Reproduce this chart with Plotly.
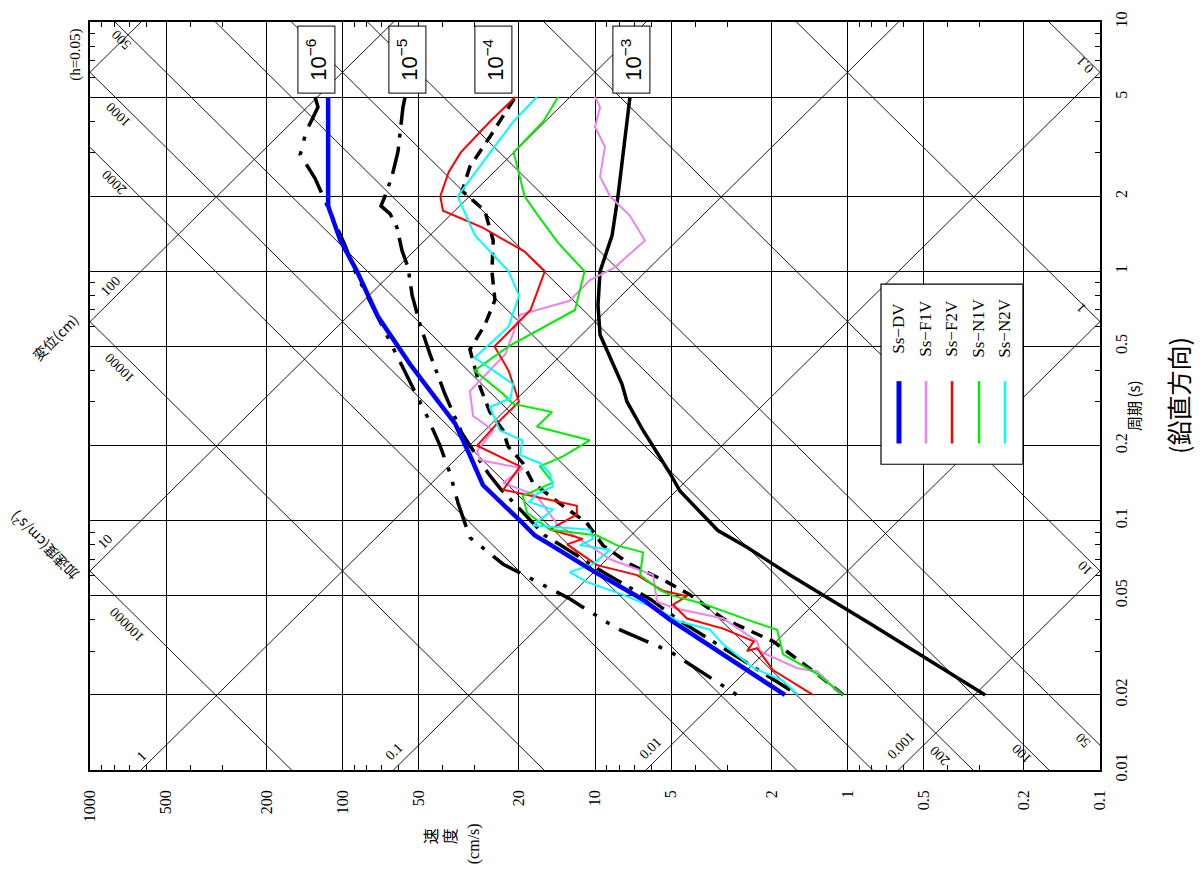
import numpy as np
import plotly.graph_objects as go

# ---------------- data (period T [s], pseudo velocity V [cm/s]) ----------------
vel_ticks = [1000, 500, 200, 100, 50, 20, 10, 5, 2, 1, 0.5, 0.2, 0.1]
per_ticks = [0.01, 0.02, 0.05, 0.1, 0.2, 0.5, 1, 2, 5, 10]
disp_lines = [0.001, 0.01, 0.1, 1, 10, 100, 1000]          # cm
acc_lines = [0.1, 1, 10, 50, 100, 200, 500, 1000, 2000, 10000, 100000]  # cm/s2

T_e3 = [0.02, 0.0387, 0.0605, 0.0782, 0.0913, 0.1315, 0.155, 0.23, 0.30, 0.353, 0.557, 0.733, 1.0, 1.39, 2.0, 3.46, 5.0]
V_e3 = [0.285, 0.815, 1.69, 2.50, 3.26, 4.61, 5.05, 6.45, 7.47, 7.82, 9.55, 9.73, 9.55, 8.56, 8.11, 7.61, 7.27]

T_e4 = [0.02, 0.0243, 0.0328, 0.0405, 0.0504, 0.0568, 0.0669, 0.0796, 0.0982, 0.1147, 0.1416, 0.17, 0.1985, 0.23, 0.273, 0.343, 0.486, 0.61, 0.767, 1.0, 1.33, 1.75, 2.10, 2.63, 3.46, 5.0]
V_e4 = [1.04, 1.32, 1.97, 3.11, 4.2, 5.19, 7.27, 9.3, 10.8, 13.4, 17.6, 19.3, 22.1, 23.1, 26.1, 28.5, 31.3, 27.3, 24.9, 25.6, 25.3, 27.3, 33.6, 31.3, 26.1, 20.7]

T_e5 = [5.0, 4.56, 3.02, 2.40, 2.0, 1.83, 1.70, 1.495, 1.21, 1.037, 0.803, 0.611, 0.464, 0.322, 0.2235, 0.186, 0.155, 0.135, 0.1028, 0.0872, 0.0803, 0.0622, 0.0482, 0.0401, 0.02]
V_e5 = [56.5, 57.6, 60.3, 63.7, 67.9, 70.4, 64.8, 60.8, 58.1, 55.0, 53.0, 49.3, 45.0, 39.3, 33.6, 29.9, 26.5, 23.8, 18.4, 15.8, 13.8, 9.3, 6.0, 4.69, 1.57]

T_e6 = [5.0, 4.56, 3.63, 2.94, 2.36, 1.91, 1.59, 1.27, 1.0, 0.789, 0.61, 0.456, 0.347, 0.263, 0.2, 0.155, 0.118, 0.0856, 0.0669, 0.0486, 0.0369, 0.0299, 0.02]
V_e6 = [128.5, 125, 139.5, 147, 128.5, 117, 107, 97.7, 89.2, 79.3, 69.8, 60.8, 53, 46.3, 41.1, 37.5, 34.9, 31.3, 23.1, 12.6, 8.18, 5.05, 2.74]

T_dv = [0.02, 0.0401, 0.0482, 0.0622, 0.0803, 0.0872, 0.1, 0.139, 0.183, 0.245, 0.294, 0.424, 0.657, 1.0, 1.33, 1.83, 5.0]
V_dv = [1.77, 5.05, 6.45, 10, 15.1, 17.3, 19.8, 27.8, 31.3, 35.8, 41.1, 54, 72.3, 87.6, 102, 114, 114]

T_f1 = [0.0202, 0.0249, 0.0256, 0.0299, 0.0328, 0.0405, 0.0443, 0.0473, 0.0605, 0.07, 0.0964, 0.106, 0.1257, 0.142, 0.162, 0.175, 0.191, 0.23, 0.263, 0.331, 0.464, 0.669, 0.762, 0.921, 1.04, 1.33, 1.67, 2.0, 2.4, 3.16, 3.79, 4.56, 5.0]
V_f1 = [1.07, 1.32, 1.58, 2.22, 2.28, 3.11, 4.73, 5.68, 5.89, 8.72, 14.1, 15.1, 17.0, 23.1, 19.3, 28.5, 29.3, 25.3, 30.4, 31.3, 22.7, 19.8, 12.6, 10.5, 8.33, 6.34, 7.27, 8.72, 9.55, 9.13, 10, 9.55, 10]

T_f2 = [0.02, 0.0251, 0.0308, 0.03, 0.0328, 0.0369, 0.0405, 0.046, 0.0498, 0.0523, 0.0605, 0.0663, 0.0803, 0.0845, 0.0921, 0.106, 0.1147, 0.133, 0.165, 0.191, 0.2, 0.25, 0.3, 0.4, 0.5, 0.7, 1.0, 1.2, 1.5, 1.75, 2.0, 2.5, 3.0, 4.0, 5.0]
V_f2 = [1.37, 1.97, 2.28, 2.5, 2.35, 3.11, 4.32, 4.91, 4.32, 5.38, 6.82, 9.82, 12.9, 11.2, 15.1, 11.8, 11.8, 23.1, 19.8, 26.8, 29.3, 24, 20, 22, 25, 18, 15.8, 19, 28, 40, 41, 38, 34, 26, 20.7]

T_n1 = [0.02, 0.0243, 0.0291, 0.0365, 0.0401, 0.0464, 0.0504, 0.0527, 0.0605, 0.0746, 0.0796, 0.0872, 0.0921, 0.1076, 0.1257, 0.142, 0.165, 0.181, 0.21, 0.238, 0.273, 0.294, 0.322, 0.4, 0.5, 0.7, 1.0, 1.3, 1.7, 2.0, 3.0, 4.0, 5.0]
V_n1 = [1.04, 1.32, 1.8, 1.9, 2.50, 3.73, 5.05, 5.53, 6.63, 6.45, 8.18, 9.82, 15.1, 18.6, 19.3, 14.7, 16.5, 13.4, 10.5, 17, 14.8, 21.1, 23.1, 30, 22, 12, 11, 14, 17, 19, 21, 16, 14]

T_n2 = [0.02, 0.0228, 0.0256, 0.0319, 0.0365, 0.0397, 0.0443, 0.0504, 0.0568, 0.0622, 0.0669, 0.0728, 0.0765, 0.0796, 0.0845, 0.0921, 0.0957, 0.1107, 0.1187, 0.128, 0.137, 0.155, 0.17, 0.183, 0.21, 0.23, 0.285, 0.31, 0.353, 0.45, 0.6, 0.8, 1.0, 1.4, 2.0, 3.0, 4.0, 5.0]
V_n2 = [1.57, 1.8, 2.35, 3.11, 3.5, 4.73, 5.68, 7.75, 10.8, 12.6, 10.2, 9.3, 8.72, 11.5, 10.2, 10.5, 17.6, 14.7, 18.2, 17, 14.7, 15.1, 16.5, 19.8, 19.4, 23.8, 26.1, 21.6, 21.1, 30, 22, 20, 22, 30, 35, 26, 21, 17]

series = [
    ("Ss\u2212DV", T_dv, V_dv, "#0000ff", 4.5),
    ("Ss\u2212F1V", T_f1, V_f1, "#ee82ee", 2),
    ("Ss\u2212F2V", T_f2, V_f2, "#ff0000", 2),
    ("Ss\u2212N1V", T_n1, V_n1, "#00ee00", 2),
    ("Ss\u2212N2V", T_n2, V_n2, "#00ffff", 2),
]
hazard = [
    ("10<sup>\u22126</sup>", T_e6, V_e6, "32px,11px,4px,11px,4px,11px"),
    ("10<sup>\u22125</sup>", T_e5, V_e5, "28px,9px,4px,9px"),
    ("10<sup>\u22124</sup>", T_e4, V_e4, "12px,8px"),
    ("10<sup>\u22123</sup>", T_e3, V_e3, "solid"),
]

# ---------------- figure ----------------
W, H = 1203, 877
L, R, TOP, B = 90, 103, 14, 107
fig = go.Figure()

Tg = np.array([0.005, 20.0])
for d in disp_lines:
    fig.add_trace(go.Scatter(x=2 * np.pi * d / Tg, y=Tg, mode="lines",
                             line=dict(color="black", width=0.9), hoverinfo="skip", showlegend=False))
for a in acc_lines:
    fig.add_trace(go.Scatter(x=a * Tg / (2 * np.pi), y=Tg, mode="lines",
                             line=dict(color="black", width=0.9), hoverinfo="skip", showlegend=False))

for name, T, V, dash in hazard:
    fig.add_trace(go.Scatter(x=V, y=T, mode="lines", name=name,
                             line=dict(color="black", width=3.5, dash=dash), showlegend=False))
for name, T, V, col, w in series[1:] + series[:1]:
    fig.add_trace(go.Scatter(x=V, y=T, mode="lines", name=name,
                             line=dict(color=col, width=w), showlegend=False))

def minor_vals(lo, hi):
    out = []
    for e in range(lo, hi):
        for m in (3, 4, 6, 7, 8, 9):
            out.append(m * 10.0 ** e)
    return out

SERIF = "Liberation Serif"
CJK = "Noto Sans CJK JP"

fig.update_xaxes(type="log", range=[3, -1], tickvals=vel_ticks, ticktext=[str(v) for v in vel_ticks],
                 tickangle=-90, tickfont=dict(family=SERIF, size=16, color="black"),
                 ticklabelstandoff=12,
                 showgrid=True, gridcolor="black", gridwidth=1, zeroline=False,
                 showline=True, linecolor="black", linewidth=1.5, mirror="ticks",
                 ticks="inside", ticklen=0,
                 minor=dict(tickvals=minor_vals(-1, 3), ticks="inside", ticklen=5, tickcolor="black", showgrid=False))
fig.update_yaxes(type="log", range=[-2, 1], side="right", tickvals=per_ticks,
                 ticktext=[str(v) for v in per_ticks],
                 tickangle=-90, tickfont=dict(family=SERIF, size=16, color="black"),
                 ticklabelstandoff=6,
                 showgrid=True, gridcolor="black", gridwidth=1, zeroline=False,
                 showline=True, linecolor="black", linewidth=1.5, mirror="ticks",
                 ticks="inside", ticklen=0,
                 minor=dict(tickvals=minor_vals(-2, 1), ticks="inside", ticklen=5, tickcolor="black", showgrid=False))

def xp(px):
    return (px - L) / (W - L - R)

def yp(py):
    return (H - B - py) / (H - TOP - B)

ann = []
def txt(s, px, py, ang, size=14, fam=SERIF, **kw):
    ann.append(dict(text=s, x=xp(px), y=yp(py), xref="paper", yref="paper", showarrow=False,
                    textangle=ang, font=dict(family=fam, size=size, color="black"),
                    xanchor="center", yanchor="middle", **kw))

# diagonal line labels
txt("(h=0.05)", 76, 47, -90, 15)
txt("500", 122, 32, -135, 14)
txt("1000", 118, 108, -135, 14)
txt("2000", 114, 176, -135, 14)
txt("100", 110, 281, -45, 14)
txt("変位(cm)", 55, 332, -45, 14, fam=CJK)
txt("10000", 120, 364, -135, 14)
txt("加速度(cm/s<sup>2</sup>)", 44, 544, -135, 14, fam=CJK)
txt("10", 105, 539, -45, 14)
txt("100000", 127, 623, -135, 14)
txt("1", 141, 756, -45, 14)
txt("0.1", 394, 751, -45, 14)
txt("0.01", 650, 748, -45, 14)
txt("0.001", 901, 745, -45, 14)
txt("200", 940, 756, -135, 14)
txt("100", 1022, 754, -135, 14)
txt("50", 1083, 740, -135, 14)
txt("10", 1085, 566, -135, 14)
txt("1", 1082, 303, -135, 14)
txt("0.1", 1085, 57, -135, 14)

# hazard level boxes
for (name, *_), cx in zip(hazard, [316, 407, 493, 631]):
    txt(name, cx, 52, -90, 22, fam="Liberation Sans", bgcolor="white", bordercolor="black",
        borderwidth=1, width=64, height=34, borderpad=1)

# axis titles
txt("速", 430, 837, -90, 16, fam=CJK)
txt("度", 449, 837, -90, 16, fam=CJK)
txt("(cm/s)", 474, 845, -90, 16, fam=SERIF)
txt("周期 (s)", 1134, 402, -90, 15, fam=CJK)
txt("(鉛直方向)", 1178, 392, -90, 25, fam=CJK)

# legend (rotated)
shapes = [dict(type="rect", xref="paper", yref="paper", x0=xp(881), x1=xp(1023), y0=yp(461), y1=yp(279),
               line=dict(color="black", width=1.2), fillcolor="white", layer="above")]
for (name, T, V, col, w), cx in zip(series, [899, 926, 952, 979, 1005]):
    shapes.append(dict(type="line", xref="paper", yref="paper", x0=xp(cx), x1=xp(cx), y0=yp(440), y1=yp(377),
                       line=dict(color=col, width=w + 0.5), layer="above"))
    txt(name, cx, 324, -90, 17)

fig.update_layout(width=W, height=H, margin=dict(l=L, r=R, t=TOP, b=B, pad=0),
                  plot_bgcolor="white", paper_bgcolor="white",
                  annotations=ann, shapes=shapes, showlegend=False)

fig.write_html("out.html", config={"displayModeBar": False},
               post_script="document.body.style.margin='0';")
